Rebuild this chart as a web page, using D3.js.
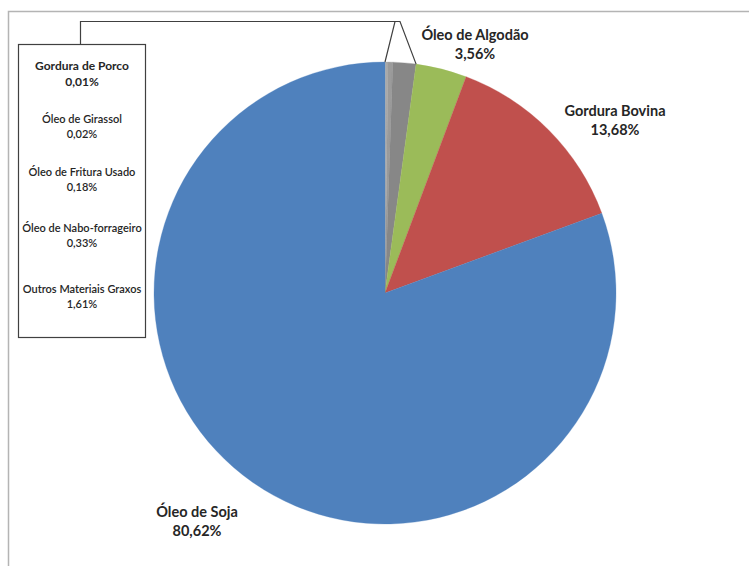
<!DOCTYPE html>
<html>
<head>
<meta charset="utf-8">
<script src="https://cdn.jsdelivr.net/npm/d3@7"></script>
<style>
  html, body { margin: 0; padding: 0; background: #fff; }
  svg text { font-family: Lato, "Open Sans", sans-serif; fill: #262626; }
</style>
</head>
<body>
<div id="chart"></div>
<script>
// Pie chart of raw materials (percent share)

var categories = ["Gordura de Porco", "Óleo de Girassol", "Óleo de Fritura Usado",
                  "Óleo de Nabo-forrageiro", "Outros Materiais Graxos",
                  "Óleo de Algodão", "Gordura Bovina", "Óleo de Soja"];
var values = [0.01, 0.02, 0.18, 0.33, 1.61, 3.56, 13.68, 80.62];
var valueLabels = ["0,01%", "0,02%", "0,18%", "0,33%", "1,61%", "3,56%", "13,68%", "80,62%"];
var palette = ["#bdbdbd", "#b3b3b3", "#a9a9a9", "#9b9b9b", "#878787",
               "#9bbb59", "#c0504d", "#4f81bd"];

var width = 749, height = 566;
var cx = 385, cy = 293, radius = 231;

var svg = d3.select("#chart").append("svg")
    .attr("width", width)
    .attr("height", height);

// outer frame (only top and left edges visible)
svg.append("path")
    .attr("d", "M8.5,566 V11.5 H749")
    .attr("fill", "none")
    .attr("stroke", "#b4b4b4")
    .attr("stroke-width", 1.5);

var g = svg.append("g")
    .attr("transform", "translate(" + cx + "," + cy + ")");

var pie = d3.pie().sort(null).value(function(d) { return d; });
var arcs = pie(values);
var arc = d3.arc().innerRadius(0).outerRadius(radius);

g.selectAll(".slice")
    .data(arcs)
    .enter().append("path")
      .attr("class", "slice")
      .attr("d", arc)
      .attr("fill", function(d, i) { return palette[i]; })
      .attr("stroke", function(d, i) { return palette[i]; })
      .attr("stroke-width", 0.3);

// leader bracket for the five small slices
var small = arcs.slice(0, 5);
var a0 = small[0].startAngle, a1 = small[4].endAngle;
var p0 = [cx + radius * Math.sin(a0), cy - radius * Math.cos(a0)];
var p1 = [cx + radius * Math.sin(a1), cy - radius * Math.cos(a1)];
var apexY = 21.5, apexL = 395, apexR = 400;
svg.append("path")
    .attr("d", "M" + p0[0] + "," + p0[1] + " L" + apexL + "," + apexY +
               " L" + apexR + "," + apexY + " L" + p1[0] + "," + p1[1])
    .attr("fill", "none")
    .attr("stroke", "#404040")
    .attr("stroke-width", 1.2);
svg.append("path")
    .attr("d", "M" + apexL + "," + apexY + " H80.5 V44")
    .attr("fill", "none")
    .attr("stroke", "#404040")
    .attr("stroke-width", 1.2);

// box listing the small slices
svg.append("rect")
    .attr("x", 18.5).attr("y", 44.5)
    .attr("width", 127).attr("height", 293)
    .attr("fill", "#fff")
    .attr("stroke", "#404040")
    .attr("stroke-width", 1.2);

var boxRows = [70, 123, 176, 232, 293];
small.forEach(function(d, i) {
  var first = i === 0;
  var t = svg.append("text")
      .attr("x", 82)
      .attr("y", boxRows[i])
      .attr("text-anchor", "middle")
      .style("font-size", first ? "12px" : "11px")
      .style("font-weight", first ? "700" : "600");
  t.append("tspan").attr("x", 82).text(categories[d.index]);
  t.append("tspan").attr("x", 82).attr("dy", first ? 16 : 15).text(valueLabels[d.index]);
});

// labels for the large slices
var bigLabels = [
  { i: 5, x: 475, y: 40 },
  { i: 6, x: 615, y: 116 },
  { i: 7, x: 197, y: 517 }
];
bigLabels.forEach(function(l) {
  var t = svg.append("text")
      .attr("x", l.x)
      .attr("y", l.y)
      .attr("text-anchor", "middle")
      .style("font-size", "14.5px")
      .style("font-weight", "700");
  t.append("tspan").attr("x", l.x).text(categories[l.i]);
  t.append("tspan").attr("x", l.x).attr("dy", 19).text(valueLabels[l.i]);
});
</script>
</body>
</html>
